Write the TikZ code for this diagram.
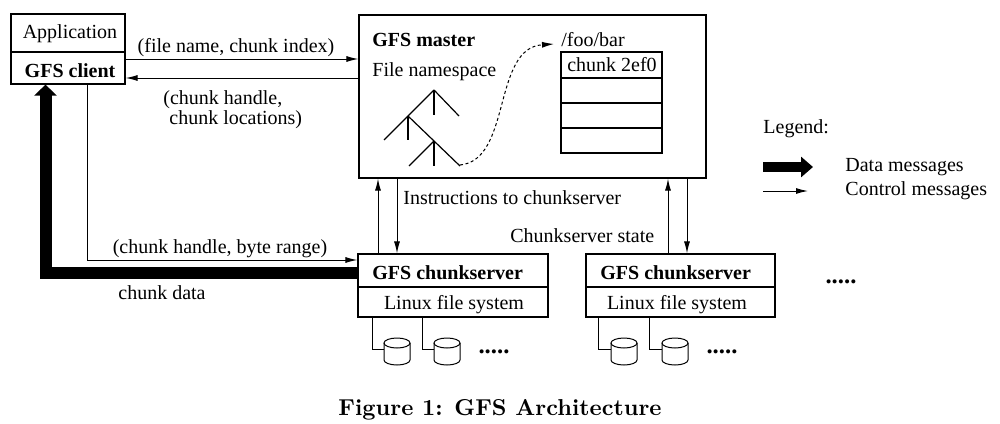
\documentclass[tikz,border=0pt]{standalone}
\usepackage{fontspec}
\setmainfont{Liberation Serif}
\newfontfamily\capfont{lmroman10-bold.otf}
\usetikzlibrary{arrows.meta,fit,calc}
\newcommand\gfsdisk[2]{%
  \draw[thinline] ({#1-13},343) -- ({#1-13},360) arc[start angle=180,end angle=0,x radius=13,y radius=5] -- ({#1+13},343);
  \draw[thinline] (#1,343) ellipse [x radius=13,y radius=5];
  \node[inner sep=0, fit={({#1-13},338) ({#1+13},360)}] (#2) {};}
\begin{document}
\begin{tikzpicture}[x=0.5pt,y=-0.5pt,
  box/.style={draw, line width=0.6pt, inner sep=0},
  lbl/.style={inner sep=0, font=\fontsize{10}{12}\selectfont},
  blbl/.style={inner sep=0, font=\fontsize{10}{12}\selectfont\bfseries},
  dots/.style={inner sep=0, font=\fontsize{12.4}{14}\selectfont\bfseries},
  thinline/.style={line width=0.5pt},
  ctl/.style={line width=0.5pt, -{Latex[length=6pt,width=3pt]}},
  data/.style={line width=6pt, -{Triangle[length=5.5pt,width=11pt]}},
  legdata/.style={line width=5pt, -{Triangle[length=6pt,width=10pt]}}]
\useasboundingbox (0,0) rectangle (1000,423);

% client
\node[box, fit={(11,14) (125,84)}] (client) {};
\coordinate (dv1) at (0,52);
\draw[line width=0.6pt] (client.west |- dv1) -- (client.east |- dv1);
\node[lbl] (app) at (70,34) {Application};
\node[blbl] (gfsc) at (70,71) {GFS client};

% master
\node[box, fit={(359,15) (706,178)}] (master) {};
\node[blbl, anchor=west] (mtitle) at (372,40) {GFS master};
\node[lbl, anchor=west] (fns) at (372,72) {File namespace};
\node[lbl, anchor=west] (foo) at (561,40) {/foo/bar};
\node[box, fit={(561,52) (662,153)}] (tbl) {};
\foreach \yy in {78,103,128} \draw[line width=0.6pt] (561,\yy) -- (662,\yy);
\node[lbl] (chunk) at (612,65) {chunk 2ef0};

% tree
\draw[line width=0.6pt] (434,90) -- (459,116);
\draw[line width=0.6pt] (434,90) -- (434,115);
\draw[line width=0.6pt] (434,90) -- (384,140);
\draw[line width=0.6pt] (408,116) -- (408,140);
\draw[line width=0.6pt] (408,116) -- (460,166);
\draw[line width=0.6pt] (434,141) -- (409,166);
\draw[line width=0.6pt] (434,141) -- (434,166);
\coordinate (ts) at (460,165);
\coordinate (te) at (554,44);
\draw[line width=0.5pt, dash pattern=on 1.5pt off 1.3pt, -{Latex[length=6pt,width=3pt]}] (ts) .. controls (512,160) and (492,48) .. (te);

% chunkservers
\node[box, fit={(358,254) (548,317)}] (cs1) {};
\node[box, fit={(586,254) (775,317)}] (cs2) {};
\coordinate (dv2) at (0,287);
\draw[line width=0.6pt] (cs1.west |- dv2) -- (cs1.east |- dv2);
\draw[line width=0.6pt] (cs2.west |- dv2) -- (cs2.east |- dv2);
\node[blbl, anchor=west] (cs1t) at (372,273) {GFS chunkserver};
\node[blbl, anchor=west] (cs2t) at (600,273) {GFS chunkserver};
\node[lbl] (lfs1) at (454,305) {Linux file system};
\node[lbl] (lfs2) at (677,305) {Linux file system};

% client <-> master
\coordinate (r1) at (0,59);
\coordinate (r2) at (0,78);
\draw[ctl] (client.east |- r1) -- (master.west |- r1);
\draw[ctl] (master.west |- r2) -- (client.east |- r2);
\node[lbl] (q1) at (236,48) {(file name, chunk index)};
\node[lbl, anchor=north west, align=left, font=\fontsize{10}{9}\selectfont] (q2) at (163,90) {(chunk handle,\\\hspace{3pt}chunk locations)};

% client <-> chunkserver
\coordinate (c1) at (87,260);
\draw[ctl] (client.south -| c1) |- (cs1.west |- c1);
\node[lbl] (q3) at (220,249) {(chunk handle, byte range)};
\coordinate (c2) at (45.5,273);
\draw[data] (cs1.west |- c2) -| (client.south -| c2);
\node[lbl] (q4) at (162,293) {chunk data};

% master <-> chunkservers
\coordinate (v1) at (378,0);
\coordinate (v2) at (397,0);
\coordinate (v3) at (668,0);
\coordinate (v4) at (687,0);
\draw[ctl] (cs1.north -| v1) -- (master.south -| v1);
\draw[ctl] (master.south -| v2) -- (cs1.north -| v2);
\draw[ctl] (cs2.north -| v3) -- (master.south -| v3);
\draw[ctl] (master.south -| v4) -- (cs2.north -| v4);
\node[lbl, anchor=west] (instr) at (403,198) {Instructions to chunkserver};
\node[lbl, anchor=west] (state) at (510,236) {Chunkserver state};

% disks
\gfsdisk{397}{dk1}
\gfsdisk{447}{dk2}
\gfsdisk{624}{dk3}
\gfsdisk{675}{dk4}
\coordinate (t1) at (372,0);
\coordinate (t2) at (422,0);
\coordinate (t3) at (598,0);
\coordinate (t4) at (649,0);
\draw[thinline] (cs1.south -| t1) |- (dk1.west);
\draw[thinline] (cs1.south -| t2) |- (dk2.west);
\draw[thinline] (cs2.south -| t3) |- (dk3.west);
\draw[thinline] (cs2.south -| t4) |- (dk4.west);
\node[dots] (dots1) at (494,352) {.....};
\node[dots] (dots2) at (722,352) {.....};
\node[dots] (dots3) at (841,282) {.....};

% legend
\node[lbl, anchor=west] (leg) at (763,129) {Legend:};
\coordinate (la1) at (763,167);
\coordinate (la2) at (813,167);
\coordinate (lb1) at (763,191);
\coordinate (lb2) at (808,191);
\draw[legdata] (la1) -- (la2);
\draw[ctl] (lb1) -- (lb2);
\node[lbl, anchor=west] (ldata) at (845,167) {Data messages};
\node[lbl, anchor=west] (lctl) at (845,191) {Control messages};

% caption
\node[inner sep=0, font={\capfont\fontsize{11.5}{14}\selectfont}] (cap) at (500,410) {Figure 1: GFS Architecture};
\end{tikzpicture}
\end{document}
